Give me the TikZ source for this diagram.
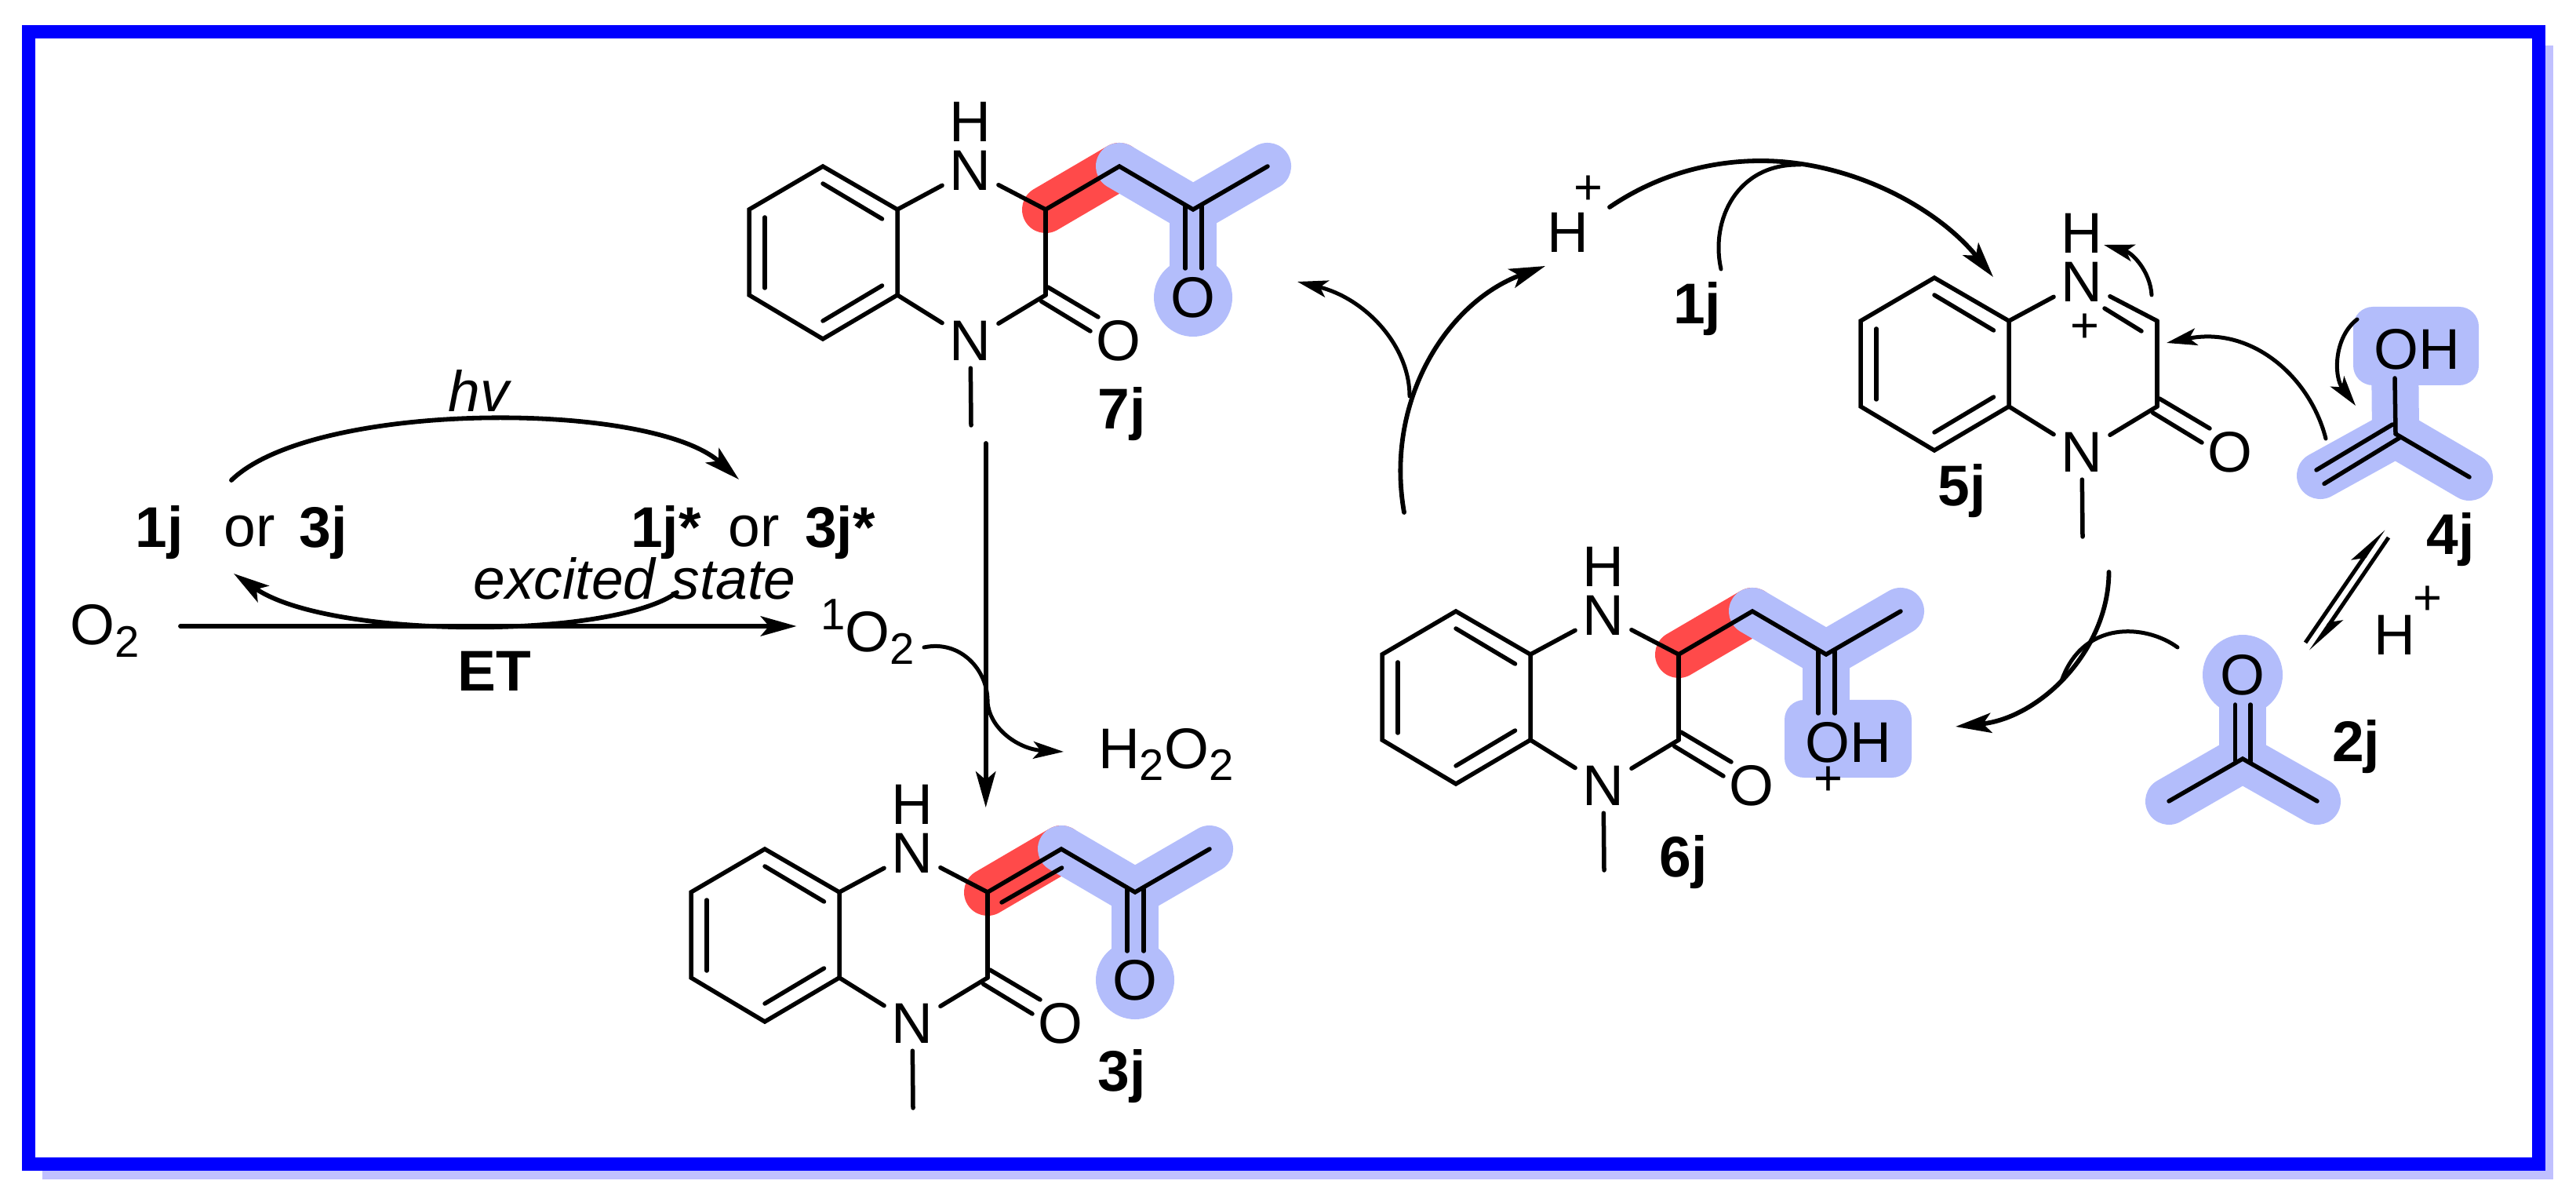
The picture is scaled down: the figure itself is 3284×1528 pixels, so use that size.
\documentclass[tikz,border=0pt]{standalone}
\usepackage{fontspec}
\setmainfont{Liberation Sans}
\usetikzlibrary{arrows.meta}
\definecolor{hlblue}{RGB}{179,189,251}
\definecolor{hlred}{RGB}{255,74,74}
\definecolor{frameblue}{RGB}{0,0,255}
\definecolor{frameshadow}{RGB}{192,192,255}
\newcommand{\subd}[1]{\raisebox{-4.5pt}{\fontsize{16}{16}\selectfont #1}}
\newcommand{\supd}[1]{\raisebox{8.2pt}{\fontsize{16}{16}\selectfont #1}}
\tikzset{
  txt/.style={font=\fontsize{20.8}{22}\selectfont,inner sep=0pt,outer sep=0pt},
  atom/.style={txt,anchor=center},
  natom/.style={txt,anchor=center,inner xsep=2.7pt,inner ysep=2.85pt},
  lab/.style={txt,anchor=base,font=\fontsize{20.8}{22}\selectfont\bfseries},
  plain/.style={txt,anchor=base},
  ital/.style={txt,anchor=base,font=\fontsize{20.8}{22}\selectfont\itshape},
  plus/.style={inner sep=0pt,outer sep=0pt,anchor=center,font=\fontsize{18}{18}\selectfont},
  bond/.style={line width=0.055cm,line cap=round,black},
  hlb/.style={line width=0.6cm,line cap=round,hlblue},
  hlr/.style={line width=0.6cm,line cap=round,hlred},
  arr/.style={line width=0.058cm,line cap=round,-{Stealth[length=13pt,width=7.2pt,inset=3pt]}},
  arrs/.style={line width=0.05cm,line cap=round,-{Stealth[length=11pt,width=6.2pt,inset=2.6pt]}},
  curve/.style={line width=0.05cm,line cap=round},
}
% highlighted side chain (under the bonds)
\newcommand{\qhigh}[3]{%
  \begin{scope}[shift={(#2,#3)},name prefix=#1-]
    \coordinate (hc3) at (1333,267);
    \coordinate (ch2) at (1427,212);
    \coordinate (cc) at (1521,267);
    \coordinate (me2) at (1616,212);
    \coordinate (oc) at (1521,379);
    \draw[hlr] (hc3) -- (ch2);
    \draw[hlb] (ch2) -- (cc) -- (me2);
    \draw[hlb,line cap=butt] (cc) -- (oc);
  \end{scope}}
% quinoxalinone core
\newcommand{\qring}[3]{%
  \begin{scope}[shift={(#2,#3)},name prefix=#1-]
    \coordinate (a1) at (1049,212);
    \coordinate (a2) at (1144,267);
    \coordinate (a3) at (1144,376);
    \coordinate (a4) at (1049,432);
    \coordinate (a5) at (955,376);
    \coordinate (a6) at (955,267);
    \coordinate (c3) at (1333,267);
    \coordinate (c2) at (1333,376);
    \coordinate (i1) at (1049,234);
    \coordinate (i2) at (1124.5,279);
    \coordinate (i3) at (975,277);
    \coordinate (i4) at (975,367);
    \coordinate (i5) at (1049,409);
    \coordinate (i6) at (1124.5,364);
    \coordinate (me) at (1238,542);
    \coordinate (d1) at (1336,366);
    \coordinate (d2) at (1400,404);
    \coordinate (d3) at (1327.5,384);
    \coordinate (d4) at (1390,422);
    \node[natom] (N1) at (1237,217) {N};
    \node[atom] (H1) at (1237,155) {H};
    \node[natom] (N4) at (1237,434) {N};
    \node[atom] (O2) at (1425.5,434) {O};
    \draw[bond] (a1) -- (a2) -- (a3) -- (a4) -- (a5) -- (a6) -- cycle;
    \draw[bond] (i1) -- (i2);
    \draw[bond] (i3) -- (i4);
    \draw[bond] (i5) -- (i6);
    \draw[bond] (a2) -- (N1);
    \draw[bond] (c3) -- (N1);
    \draw[bond] (c3) -- (c2);
    \draw[bond] (c2) -- (N4);
    \draw[bond] (a3) -- (N4);
    \draw[bond] (N4) -- (me);
    \draw[bond] (d1) -- (d2);
    \draw[bond] (d3) -- (d4);
  \end{scope}}
% side chain bonds
\newcommand{\qchain}[3]{%
  \begin{scope}[shift={(#2,#3)},name prefix=#1-]
    \coordinate (e1) at (1511,263);
    \coordinate (e2) at (1511,342);
    \coordinate (e3) at (1532,263);
    \coordinate (e4) at (1532,342);
    \draw[bond] (c3) -- (ch2) -- (cc) -- (me2);
    \draw[bond] (e1) -- (e2);
    \draw[bond] (e3) -- (e4);
  \end{scope}}
\begin{document}
\begin{tikzpicture}[x=0.01cm,y=-0.01cm]
\useasboundingbox (0,0) rectangle (3284,1528);
\fill[white] (0,0) rectangle (3284,1528);
% frame
\fill[frameshadow] (54,58) rectangle (3255,1503);
\draw[frameblue,fill=white,line width=0.17cm] (36.5,40.5) rectangle (3236.5,1483.5);

% ---------- 7j
\qhigh{q7}{0}{0}
\fill[hlblue] (1521,379) circle (50);
\qring{q7}{0}{0}
\qchain{q7}{0}{0}
\node[atom] (q7O) at (1521,379) {O};
\node[lab] (l7j) at (1430,547) {7j};

% ---------- 3j
\qhigh{q3}{-74}{870}
\fill[hlblue] (1447,1249) circle (50);
\qring{q3}{-74}{870}
\qchain{q3}{-74}{870}
\coordinate (q3d1) at (1277,1150);
\coordinate (q3d2) at (1353.6,1106);
\draw[bond] (q3d1) -- (q3d2);
\node[atom] (q3O) at (1447,1249) {O};
\node[lab] (l3j) at (1430,1390) {3j};

% ---------- 6j
\qhigh{q6}{807}{567}
\fill[hlblue,rounded corners=0.25cm] (2275,892) rectangle (2437,991);
\qring{q6}{807}{567}
\qchain{q6}{807}{567}
\node[atom] (q6OH) at (2356,946) {OH};
\node[plus] (q6p) at (2331,995) {+};
\node[lab] (l6j) at (2146,1117) {6j};

% ---------- 5j
\qring{q5}{1417}{142}
\coordinate (q5b1) at (2683,393);
\coordinate (q5b2) at (2730,422);
\draw[bond] (q5b1) -- (q5b2);
\node[plus] (q5p) at (2658,418) {+};
\node[lab] (l5j) at (2501,645) {5j};

% ---------- 4j
\coordinate (c4) at (3054,553);
\coordinate (c4h) at (2958,606);
\coordinate (c4m) at (3148,608);
\coordinate (c4o) at (3053,482);
\coordinate (c4a) at (3053,445);
\coordinate (c4b) at (3050,541);
\coordinate (c4c) at (2953,599);
\coordinate (c4d) at (3060.6,557);
\coordinate (c4e) at (2963,616.5);
\draw[hlb] (c4h) -- (c4) -- (c4m);
\draw[hlb,line cap=butt] (c4) -- (c4a);
\fill[hlblue,rounded corners=0.25cm] (3000,391) rectangle (3160,491);
\draw[bond] (c4o) -- (c4);
\draw[bond] (c4) -- (c4m);
\draw[bond] (c4b) -- (c4c);
\draw[bond] (c4d) -- (c4e);
\node[atom] (q4OH) at (3081,445) {OH};
\node[lab] (l4j) at (3124,707) {4j};

% ---------- 2j
\coordinate (c2c) at (2859,967);
\coordinate (c2l) at (2765,1021);
\coordinate (c2r) at (2954,1021);
\coordinate (c2a) at (2849.6,898);
\coordinate (c2b) at (2849.6,970);
\coordinate (c2e) at (2869,898);
\coordinate (c2f) at (2869,970);
\draw[hlb] (c2l) -- (c2c) -- (c2r);
\draw[hlb,line cap=butt] (c2c) -- (2859,860);
\fill[hlblue] (2859,860) circle (51);
\draw[bond] (c2l) -- (c2c) -- (c2r);
\draw[bond] (c2a) -- (c2b);
\draw[bond] (c2e) -- (c2f);
\node[atom] (q2O) at (2859,860) {O};
\node[lab] (l2j) at (3003.6,970) {2j};

% ---------- left cycle
\node[lab] (t1j) at (203,698) {1j};
\node[plain] (tor1) at (318,697) {or};
\node[lab] (t3j) at (412,698) {3j};
\node[lab] (t1js) at (849,698) {1j*};
\node[plain] (tor2) at (961,697) {or};
\node[lab] (t3js) at (1071,698) {3j*};
\node[ital] (thv) at (610.5,525) {hv};
\node[ital] (texc) at (809,764) {excited state};
\node[plain,anchor=base west] (tO2) at (90,822) {O\subd{2}};
\node[plain,anchor=base west] (t1O2) at (1046,831) {\supd{1}O\subd{2}};
\node[lab] (tET) at (630,881) {ET};
\node[plain,anchor=base west] (tH2O2) at (1400,979) {H\subd{2}O\subd{2}};

\coordinate (s1) at (295,612);
\coordinate (e1a) at (942,611);
\coordinate (s2) at (863,755);
\coordinate (e2a) at (298,731);
\coordinate (s3) at (230,798);
\coordinate (e3a) at (1015.5,798);
\draw[arr] (s1) .. controls (400,510) and (830,510) .. (e1a);
\draw[arr] (s2) .. controls (780,815) and (420,815) .. (e2a);
\draw[arr] (s3) -- (e3a);

% 7j -> 3j
\coordinate (v1) at (1256.7,565);
\coordinate (v2) at (1256.7,1029);
\draw[arr] (v1) -- (v2);
\coordinate (o1) at (1178,825);
\coordinate (o2) at (1259,895);
\coordinate (o3) at (1356,958);
\draw[arrs] (o1) .. controls (1225,815) and (1260,855) .. (o2) .. controls (1262,930) and (1300,955) .. (o3);

% ---------- right cycle
\node[plain] (tHp) at (1999,322) {H};
\node[plus] (tHpp) at (2024.7,242) {+};
\node[lab] (t1jb) at (2163.5,413) {1j};
\coordinate (m1) at (1790,653);
\coordinate (m2) at (1970,339);
\coordinate (m3) at (1797,505);
\coordinate (m4) at (1654,359);
\draw[arr] (m1) .. controls (1765,510) and (1845,385) .. (m2);
\draw[arrs] (m3) .. controls (1797,440) and (1740,380) .. (m4);

\coordinate (h1) at (2052,264);
\coordinate (h2) at (2245,205);
\coordinate (h3) at (2541,353);
\draw[arr] (h1) .. controls (2105,228) and (2170,205) .. (h2) .. controls (2360,205) and (2470,265) .. (h3);
\coordinate (j1) at (2194,343);
\coordinate (j2) at (2295,210);
\draw[curve] (j1) .. controls (2180,280) and (2215,208) .. (j2);

\coordinate (k1) at (2743,376);
\coordinate (k2) at (2682,312);
\draw[arrs] (k1) .. controls (2741,345) and (2718,322) .. (k2);
\coordinate (k3) at (2965,559);
\coordinate (k4) at (2762,437);
\draw[arrs] (k3) .. controls (2945,480) and (2870,415) .. (k4);
\coordinate (k5) at (3005,407);
\coordinate (k6) at (3003,517);
\draw[arrs] (k5) .. controls (2975,430) and (2975,480) .. (k6);

% equilibrium
\coordinate (q1) at (2939,819);
\coordinate (q2) at (3038.5,674);
\coordinate (q3) at (3045,685);
\coordinate (q4) at (2946,830);
\draw[line width=0.05cm,-{Stealth[harpoon,length=13pt,width=6.5pt,inset=3pt]}] (q1) -- (q2);
\draw[line width=0.05cm,-{Stealth[harpoon,length=13pt,width=6.5pt,inset=3pt]}] (q3) -- (q4);
\node[plain] (tHq) at (3052.4,834) {H};
\node[plus] (tHqp) at (3095,765) {+};

% 5j -> 6j with 2j joining
\coordinate (r1) at (2688.5,729);
\coordinate (r2) at (2493,926);
\coordinate (r3) at (2776,825);
\coordinate (r4) at (2628,868);
\draw[arr] (r1) .. controls (2688,830) and (2600,915) .. (r2);
\draw[curve] (r3) .. controls (2735,795) and (2655,790) .. (r4);
\end{tikzpicture}
\end{document}
